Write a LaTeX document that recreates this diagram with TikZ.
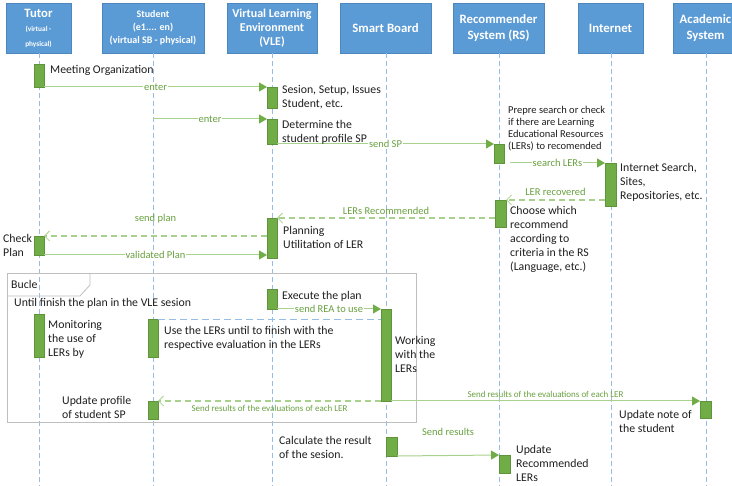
\documentclass[tikz,border=0pt]{standalone}
\usepackage{fontspec}
\setmainfont{Carlito}
\usetikzlibrary{arrows.meta}
\definecolor{hdrblue}{RGB}{91,155,213}
\definecolor{hdrline}{RGB}{78,135,190}
\definecolor{lifeblue}{RGB}{150,190,228}
\definecolor{barg}{RGB}{112,173,71}
\definecolor{msgline}{RGB}{169,209,142}
\definecolor{msgtext}{RGB}{104,160,64}
\definecolor{framegray}{RGB}{191,191,191}
\definecolor{bodytext}{RGB}{30,30,30}

\tikzset{
  header/.style={draw=hdrline, fill=hdrblue, text=white, align=center,
    minimum height=50pt, inner sep=1pt, line width=0.6pt},
  lifeline/.style={draw=lifeblue, dash pattern=on 5pt off 3pt, line width=0.8pt},
  returnline/.style={draw=lifeblue, dash pattern=on 7pt off 4pt, line width=0.9pt},
  bar/.style={draw=barg!85!black, fill=barg, minimum width=10pt, inner sep=0pt,
    outer sep=0pt, line width=0.4pt},
  call/.style={draw=msgline, line width=1pt,
    -{Triangle[length=8pt,width=9pt,color=barg,fill=barg]}},
  reply/.style={draw=msgline, line width=1.2pt, dash pattern=on 6pt off 4pt,
    -{Straight Barb[length=5pt,width=10pt,line width=0.8pt]}},
  msg/.style={font=\fontsize{10.5}{12}\selectfont, text=msgtext, inner sep=1pt},
  tinymsg/.style={font=\fontsize{9}{10}\selectfont, text=msgtext, inner sep=1pt},
  note/.style={font=\fontsize{11.8}{14}\selectfont, text=bodytext, align=left,
    anchor=base west, inner sep=0pt},
}

\begin{document}
\begin{tikzpicture}[x=1pt,y=-1pt]
\useasboundingbox (0,0) rectangle (732,486);

% participants
\node[header, minimum width=65pt, font=\fontsize{7.3}{14.5}\selectfont\bfseries] (tutor) at (38.5,28)
  {{\fontsize{12.7}{14}\selectfont Tutor}\\(virtual -\\physical)};
\node[header, minimum width=102pt, font=\fontsize{10}{13}\selectfont\bfseries] (student) at (153,28)
  {Student\\(e1.... en)\\(virtual SB - physical)};
\node[header, minimum width=90pt, font=\fontsize{12}{14}\selectfont\bfseries] (vle) at (272,28)
  {Virtual Learning\\Environment\\(VLE)};
\node[header, minimum width=91pt, font=\fontsize{12.8}{16}\selectfont\bfseries] (sb) at (385.5,28)
  {Smart Board};
\node[header, minimum width=91pt, font=\fontsize{12.8}{16}\selectfont\bfseries] (rs) at (498.5,28)
  {Recommender\\System (RS)};
\node[header, minimum width=65pt, font=\fontsize{12.8}{16}\selectfont\bfseries] (inet) at (610.5,28)
  {Internet};
\node[header, minimum width=65pt, font=\fontsize{12.8}{16}\selectfont\bfseries] (acad) at (705.5,28)
  {Academic\\System};

% lifelines
\foreach \x in {39,153,272,386,499,611,706}
  \draw[lifeline] (\x,53) -- (\x,486);

% loop frame
\draw[framegray, line width=0.8pt] (7,273) rectangle (416,422);
\draw[framegray, line width=0.8pt] (7,296) -- (80,296) -- (90,285) -- (90,273);
\node[font=\fontsize{11.8}{14}\selectfont, text=bodytext, anchor=base west, inner sep=0pt] (bucle) at (11,289) {Bucle};
\node[note] (until) at (14,307) {Until finish the plan in the VLE sesion};

% activation bars
\node[bar, minimum height=23pt] (t1) at (39,75.5) {};
\node[bar, minimum height=21pt] (v1) at (272,97.5) {};
\node[bar, minimum height=25pt] (v2) at (272,131.5) {};
\node[bar, minimum height=19pt] (r1) at (499,153.5) {};
\node[bar, minimum width=11pt, minimum height=43pt] (i1) at (610.5,184.5) {};
\node[bar, minimum width=11pt, minimum height=27pt] (r2) at (500.5,213.5) {};
\node[bar, minimum height=40pt] (v3) at (272,238) {};
\node[bar, minimum height=19pt] (t2) at (39,245.5) {};
\node[bar, minimum height=20pt] (v4) at (272,299) {};
\node[bar, minimum height=92pt] (s1) at (386,355) {};
\node[bar, minimum height=43pt] (t3) at (39,335.5) {};
\node[bar, minimum height=38pt] (st1) at (153,338) {};
\node[bar, minimum height=18pt] (st2) at (153,410) {};
\node[bar, minimum width=11pt, minimum height=17pt] (a1) at (705.5,409.5) {};
\node[bar, minimum width=11pt, minimum height=19pt] (s2) at (391.5,446.5) {};
\node[bar, minimum width=11pt, minimum height=18pt] (r3) at (504.5,464) {};

% messages
\coordinate (s0) at (153,119);
\draw[call] (t1.south east) -- node[msg, fill=white] {enter} (v1.north west);
\draw[call] (s0) -- node[msg, fill=white] {enter} (v2.north west);
\draw[call] (v2.south east) -- node[msg, fill=white] {send SP} (r1.north west);
\draw[call] ([xshift=6pt]r1.south east) -- node[msg, fill=white] {search LERs} (i1.north west);
\draw[reply] (i1.west |- r2.north) -- node[msg, above=3pt] {LER recovered} (r2.north east);
\draw[reply] (r2.west |- v3.north) -- node[msg, above=2pt] {LERs Recommended} (v3.north east);
\draw[reply] (v3.west |- t2.north) -- node[msg, above=11pt] {send plan} (t2.north east);
\draw[call] (t2.south east) -- node[msg, fill=white] {validated Plan} (t2.south east -| v3.west);
\draw[call] (v4.south east) -- node[msg, fill=white] {send REA to use} (s1.north west);
\draw[returnline] (st1.north east) -- (st1.north east -| s1.west);
\draw[call] (s1.south east) -- node[tinymsg, above=2pt] {Send results of the evaluations of each LER} (a1.north west);
\draw[reply] (s1.south west) -- node[tinymsg, below=3pt] {Send results of the evaluations of each LER} (st2.north east);
\draw[call] (s2.south east) -- node[msg, above=18pt] {Send results} (r3.north west);

% notes beside the bars (placed at the baseline of their last line)
\node[note] (n1) at (50,74) {Meeting Organization};
\node[note] (n2) at (282,108) {Sesion, Setup, Issues\\Student, etc.};
\node[note] (n3) at (282,143) {Determine the\\student profile SP};
\node[note, font=\fontsize{10.5}{12}\selectfont] (n4) at (508,150)
  {Prepre search or check\\if there are Learning\\Educational Resources\\(LERs) to recomended};
\node[note] (n5) at (620,200) {Internet Search,\\Sites,\\Repositories, etc.};
\node[note] (n6) at (510,271) {Choose which\\recommend\\according to\\criteria in the RS\\(Language, etc.)};
\node[note] (n7) at (283,249) {Planning\\Utilitation of LER};
\node[note] (n8) at (3,257) {Check\\Plan};
\node[note] (n9) at (282,300) {Execute the plan};
\node[note] (n10) at (48,357) {Monitoring\\the use of\\LERs by};
\node[note] (n11) at (164,349) {Use the LERs until to finish with the\\respective evaluation in the LERs};
\node[note] (n12) at (395,373) {Working\\with the\\LERs};
\node[note] (n13) at (62,419) {Update profile\\of student SP};
\node[note] (n14) at (619,433) {Update note of\\the student};
\node[note] (n15) at (279,459) {Calculate the result\\of the sesion.};
\node[note] (n16) at (516,482) {Update\\Recommended\\LERs};
\end{tikzpicture}
\end{document}
